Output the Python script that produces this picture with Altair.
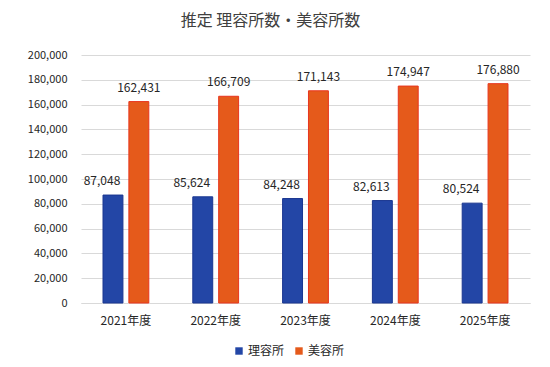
import altair as alt
import pandas as pd

years = ["2021年度", "2022年度", "2023年度", "2024年度", "2025年度"]
riyou = [87048, 85624, 84248, 82613, 80524]
biyou = [162431, 166709, 171143, 174947, 176880]
series = ["理容所", "美容所"]

rows = []
for y, a, b in zip(years, riyou, biyou):
    rows.append({"year": y, "type": series[0], "value": a})
    rows.append({"year": y, "type": series[1], "value": b})
df = pd.DataFrame(rows)

FONT = "Noto Sans CJK JP"

x = alt.X("year:N", sort=years, title=None,
          scale=alt.Scale(paddingInner=0.49, paddingOuter=0.245),
          axis=alt.Axis(labelAngle=0, ticks=False, domainColor="#D9D9D9",
                        labelPadding=12, labelFontSize=12, labelColor="#262626",
                        labelFont=FONT))
xoff = alt.XOffset("type:N", sort=series, scale=alt.Scale(paddingInner=0.23))
y = alt.Y("value:Q", title=None,
          scale=alt.Scale(domain=[0, 200000], nice=False),
          axis=alt.Axis(values=list(range(0, 200001, 20000)), format=",d",
                        domain=False, ticks=False, labelPadding=14,
                        gridColor="#D9D9D9", labelFontSize=11,
                        labelColor="#262626", labelFont=FONT))

base = alt.Chart(df)

bars = base.mark_bar(strokeWidth=1).encode(
    x=x, xOffset=xoff, y=y,
    color=alt.Color("type:N", sort=series,
                    scale=alt.Scale(domain=series, range=["#2346A6", "#E55A1B"]),
                    legend=alt.Legend(title=None, orient="none", direction="horizontal",
                                      legendX=152, legendY=290, symbolType="square",
                                      symbolSize=55, labelFontSize=12, labelFont=FONT,
                                      labelColor="#262626", columnPadding=8,
                                      labelOffset=3, symbolStrokeWidth=0)),
    stroke=alt.Stroke("type:N", sort=series,
                      scale=alt.Scale(domain=series, range=["#1A3690", "#E8351E"]),
                      legend=None),
)

labels_blue = base.transform_filter(alt.datum.type == series[0]).mark_text(
    dy=-14, dx=-11, fontSize=12, font=FONT, color="#262626").encode(
    x=x, xOffset=xoff, y=y, text=alt.Text("value:Q", format=",d"))
labels_orange = base.transform_filter(alt.datum.type == series[1]).mark_text(
    dy=-14, fontSize=12, font=FONT, color="#262626").encode(
    x=x, xOffset=xoff, y=y, text=alt.Text("value:Q", format=",d"))

chart = alt.layer(bars, labels_blue, labels_orange).properties(
    width=449, height=248,
    title=alt.TitleParams("推定 理容所数・美容所数", fontSize=16, font=FONT,
                          fontWeight="normal", color="#404040", offset=20, dx=-35,
                          anchor="middle"),
    autosize=alt.AutoSizeParams(type="none"),
    padding={"left": 73, "top": 47, "right": 12, "bottom": 60},
).configure_view(stroke=None)

chart.save("out.html", embed_options={"renderer": "svg", "actions": False})
